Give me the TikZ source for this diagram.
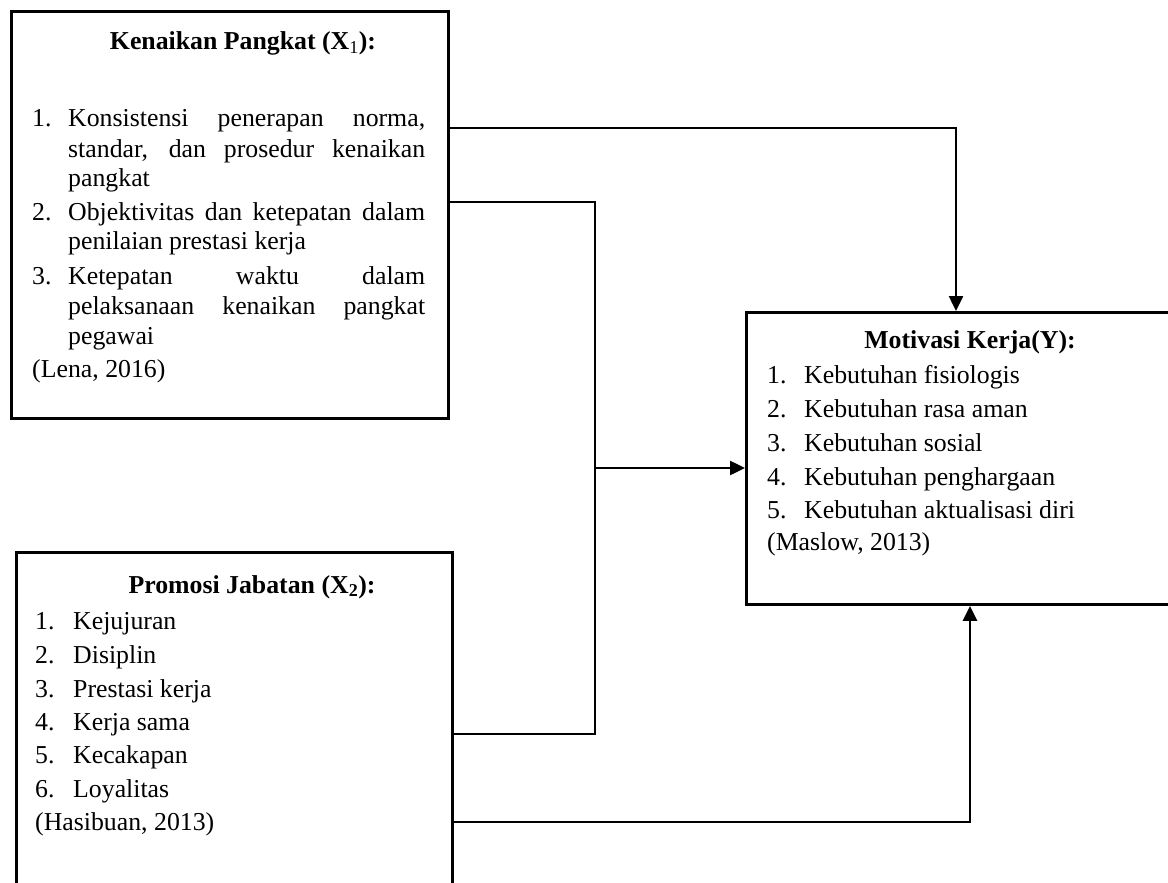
\documentclass[tikz,border=0pt]{standalone}
\usepackage{fontspec}
\setmainfont{Liberation Serif}
\usetikzlibrary{arrows.meta}
\begin{document}
\begin{tikzpicture}[x=1pt,y=-1pt,
  box/.style={draw=black, line width=2.9pt, rectangle, anchor=north west, inner sep=0pt},
  txt/.style={anchor=base west, inner sep=0pt, font=\fontsize{25.8}{30}\selectfont},
  ttl/.style={anchor=base, inner sep=0pt, font=\fontsize{25.8}{30}\selectfont\bfseries},
  conn/.style={line width=2.5pt, -{Triangle[length=15pt,width=14pt]}},
  plainline/.style={line width=2.5pt}]
\useasboundingbox (0,0) rectangle (1168,883);
\clip (0,0) rectangle (1168,883);
\fill[white] (0,0) rectangle (1168,883);

% boxes
\node[box, minimum width=437pt, minimum height=407pt] (X1) at (10,10) {};
\node[box, minimum width=436pt, minimum height=400pt] (X2) at (15,551) {};
\node[box, minimum width=520pt, minimum height=292pt] (Y) at (745,311) {};

% X1 text
\node[ttl] (t1) at (243,50) {Kenaikan Pangkat (X\textsubscript{\mdseries 1}):};
\node[txt] (a1n) at (32,126) {1.};
\node[txt] (a1a) at (68,126) {\makebox[357pt][s]{Konsistensi penerapan norma,}};
\node[txt] (a1b) at (68,157) {\makebox[357pt][s]{standar, dan prosedur kenaikan}};
\node[txt] (a1c) at (68,186) {pangkat};
\node[txt] (a2n) at (32,220) {2.};
\node[txt] (a2a) at (68,220) {\makebox[357pt][s]{Objektivitas dan ketepatan dalam}};
\node[txt] (a2b) at (68,249) {penilaian prestasi kerja};
\node[txt] (a3n) at (32,284) {3.};
\node[txt] (a3a) at (68,284) {\makebox[357pt][s]{Ketepatan waktu dalam}};
\node[txt] (a3b) at (68,314) {\makebox[357pt][s]{pelaksanaan kenaikan pangkat}};
\node[txt] (a3c) at (68,344) {pegawai};
\node[txt] (a4) at (32,377) {(Lena, 2016)};

% X2 text
\node[ttl] (t2) at (252,593) {Promosi Jabatan (X\textsubscript{2}):};
\node[txt] (b1n) at (35,629) {1.};
\node[txt] (b1) at (73,629) {Kejujuran};
\node[txt] (b2n) at (35,663) {2.};
\node[txt] (b2) at (73,663) {Disiplin};
\node[txt] (b3n) at (35,697) {3.};
\node[txt] (b3) at (73,697) {Prestasi kerja};
\node[txt] (b4n) at (35,730) {4.};
\node[txt] (b4) at (73,730) {Kerja sama};
\node[txt] (b5n) at (35,763) {5.};
\node[txt] (b5) at (73,763) {Kecakapan};
\node[txt] (b6n) at (35,797) {6.};
\node[txt] (b6) at (73,797) {Loyalitas};
\node[txt] (b7) at (35,830) {(Hasibuan, 2013)};

% Y text
\node[ttl] (t3) at (970,348) {Motivasi Kerja(Y):};
\node[txt] (c1n) at (767,383) {1.};
\node[txt] (c1) at (804,383) {Kebutuhan fisiologis};
\node[txt] (c2n) at (767,417) {2.};
\node[txt] (c2) at (804,417) {Kebutuhan rasa aman};
\node[txt] (c3n) at (767,451) {3.};
\node[txt] (c3) at (804,451) {Kebutuhan sosial};
\node[txt] (c4n) at (767,485) {4.};
\node[txt] (c4) at (804,485) {Kebutuhan penghargaan};
\node[txt] (c5n) at (767,518) {5.};
\node[txt] (c5) at (804,518) {Kebutuhan aktualisasi diri};
\node[txt] (c6) at (767,550) {(Maslow, 2013)};

% connectors
\coordinate (k1) at (956,128);
\draw[conn] (k1 -| X1.east) -- (k1) -- (Y.north -| k1);

\coordinate (j1) at (595,202);
\coordinate (j2) at (595,734);
\coordinate (j3) at (595,468);
\draw[plainline] (j1 -| X1.east) -- (j1) -- (j2) -- (j2 -| X2.east);
\draw[conn] (j3) -- (j3 -| Y.west);

\coordinate (k3) at (970,822);
\draw[conn] (k3 -| X2.east) -- (k3) -- (Y.south -| k3);
\end{tikzpicture}
\end{document}
